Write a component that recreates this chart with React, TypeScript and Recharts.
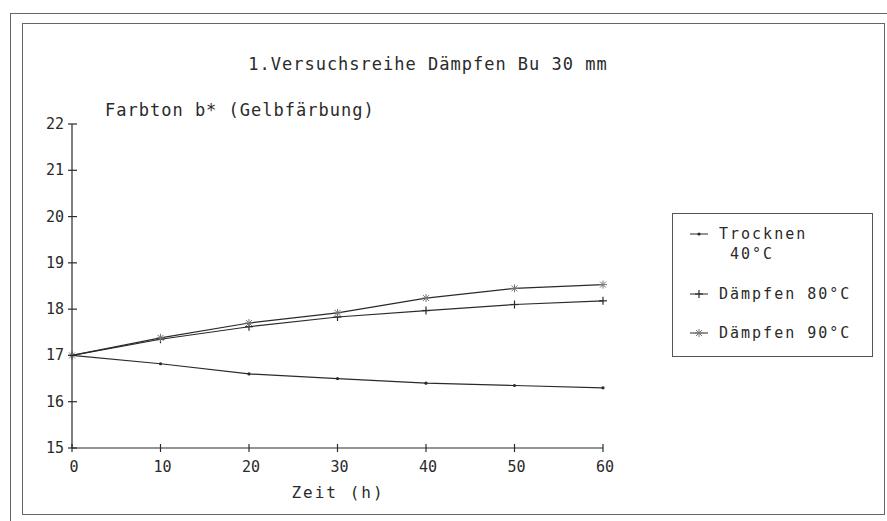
import { Legend, Line, LineChart, XAxis, YAxis } from "recharts";

// Versuchszeit in Stunden
const hours = [0, 10, 20, 30, 40, 50, 60];

// Farbton b* je Behandlung
const trocknen40 = [17.0, 16.82, 16.6, 16.5, 16.4, 16.35, 16.3];
const daempfen80 = [17.0, 17.35, 17.62, 17.83, 17.97, 18.1, 18.18];
const daempfen90 = [17.0, 17.38, 17.7, 17.92, 18.24, 18.45, 18.53];

const yTicks = [15, 16, 17, 18, 19, 20, 21, 22];
const xTicks = [0, 10, 20, 30, 40, 50, 60];

const seriesNames = ["Trocknen 40°C", "Dämpfen 80°C", "Dämpfen 90°C"];

const data = hours.map((h, i) => ({
  h,
  t40: trocknen40[i],
  d80: daempfen80[i],
  d90: daempfen90[i],
}));

const INK = "#2a2a2a";
const MONO = "'DejaVu Sans Mono', 'Liberation Mono', monospace";

function DotMark({ cx, cy }: any) {
  if (cx == null || cy == null) return null;
  return <circle cx={cx} cy={cy} r={1.6} fill={INK} />;
}

function PlusMark({ cx, cy }: any) {
  if (cx == null || cy == null) return null;
  return (
    <g stroke={INK} strokeWidth={1.2}>
      <line x1={cx - 4} y1={cy} x2={cx + 4} y2={cy} />
      <line x1={cx} y1={cy - 4} x2={cx} y2={cy + 4} />
    </g>
  );
}

function StarMark({ cx, cy }: any) {
  if (cx == null || cy == null) return null;
  return (
    <g stroke="#777" strokeWidth={1}>
      <line x1={cx - 4} y1={cy} x2={cx + 4} y2={cy} />
      <line x1={cx} y1={cy - 4} x2={cx} y2={cy + 4} />
      <line x1={cx - 3} y1={cy - 3} x2={cx + 3} y2={cy + 3} />
      <line x1={cx - 3} y1={cy + 3} x2={cx + 3} y2={cy - 3} />
    </g>
  );
}

function YTick({ x, y, payload }: any) {
  return (
    <g>
      <line x1={x + 4} y1={y} x2={x + 13} y2={y} stroke={INK} strokeWidth={1.2} />
      <text
        x={x}
        y={y}
        dy={5}
        textAnchor="end"
        fontFamily={MONO}
        fontSize={15}
        fill={INK}
      >
        {payload.value}
      </text>
    </g>
  );
}

function XTick({ x, y, payload }: any) {
  return (
    <g>
      <line x1={x} y1={y - 4} x2={x} y2={y + 4} stroke={INK} strokeWidth={1.2} />
      <text
        x={x + 2}
        y={y}
        dy={24}
        textAnchor="middle"
        fontFamily={MONO}
        fontSize={15}
        fill={INK}
      >
        {payload.value}
      </text>
    </g>
  );
}

const markers = [DotMark, PlusMark, StarMark];

function LegendBox() {
  return (
    <div
      style={{
        width: 199,
        height: 142,
        border: "1px solid #555",
        fontFamily: MONO,
        fontSize: 15,
        letterSpacing: 2,
        color: INK,
        position: "relative",
        textAlign: "left",
      }}
    >
      {seriesNames.map((name, i) => {
        const Mark = markers[i];
        const top = [10, 70, 109][i];
        const label =
          i === 0 ? (
            <>
              Trocknen
              <br />
              &nbsp;40°C
            </>
          ) : (
            name
          );
        return (
          <div key={name} style={{ position: "absolute", left: 16, top, display: "flex" }}>
            <svg width={20} height={20} style={{ marginRight: 10 }}>
              <line x1={1} y1={10} x2={19} y2={10} stroke={INK} strokeWidth={1} />
              <Mark cx={10} cy={10} />
            </svg>
            <div style={{ lineHeight: "20px" }}>{label}</div>
          </div>
        );
      })}
    </div>
  );
}

export default function App() {
  return (
    <div
      style={{
        position: "relative",
        width: 887,
        height: 521,
        background: "#fff",
        overflow: "hidden",
      }}
    >
      <style>{"body{margin:0}"}</style>
      {/* Rahmen */}
      <div
        style={{
          position: "absolute",
          left: 10,
          top: 13,
          width: 900,
          height: 540,
          borderLeft: "1px solid #666",
          borderTop: "1px solid #666",
        }}
      />
      <div
        style={{
          position: "absolute",
          left: 22,
          top: 23,
          width: 861,
          height: 490,
          border: "1px solid #666",
        }}
      />
      <div
        style={{
          position: "absolute",
          left: 0,
          width: 856,
          top: 54,
          textAlign: "center",
          fontFamily: MONO,
          fontSize: 17,
          letterSpacing: 1,
          color: INK,
        }}
      >
        1.Versuchsreihe Dämpfen Bu 30 mm
      </div>
      <div
        style={{
          position: "absolute",
          left: 105,
          top: 100,
          fontFamily: MONO,
          fontSize: 17,
          letterSpacing: 1,
          color: INK,
          whiteSpace: "pre",
        }}
      >
        Farbton b* (Gelbfärbung)
      </div>
      <div
        style={{
          position: "absolute",
          left: 0,
          width: 676,
          top: 483,
          textAlign: "center",
          fontFamily: MONO,
          fontSize: 16,
          letterSpacing: 2,
          color: INK,
          whiteSpace: "pre",
        }}
      >
        Zeit (h)
      </div>
      <div style={{ position: "absolute", left: 0, top: 0 }}>
        <LineChart
          width={887}
          height={521}
          data={data}
          margin={{ top: 124, right: 284, bottom: 0, left: 0 }}
        >
          <XAxis
            dataKey="h"
            type="number"
            domain={[0, 60]}
            ticks={xTicks}
            height={73}
            axisLine={{ stroke: INK, strokeWidth: 1.2 }}
            tickLine={false}
            tick={<XTick />}
            tickMargin={0}
            tickSize={0}
          />
          <YAxis
            type="number"
            domain={[15, 22]}
            ticks={yTicks}
            width={72}
            axisLine={{ stroke: INK, strokeWidth: 1.2 }}
            tickLine={false}
            tick={<YTick />}
            tickSize={0}
            tickMargin={8}
          />
          <Legend
            layout="vertical"
            align="center"
            verticalAlign="middle"
            content={() => <LegendBox />}
            wrapperStyle={{ position: "absolute", left: 672, top: 213, width: 201 }}
          />
          <Line
            dataKey="t40"
            name={seriesNames[0]}
            stroke={INK}
            strokeWidth={1.2}
            dot={<DotMark />}
            activeDot={false}
            isAnimationActive={false}
          />
          <Line
            dataKey="d80"
            name={seriesNames[1]}
            stroke={INK}
            strokeWidth={1.2}
            dot={<PlusMark />}
            activeDot={false}
            isAnimationActive={false}
          />
          <Line
            dataKey="d90"
            name={seriesNames[2]}
            stroke={INK}
            strokeWidth={1.2}
            dot={<StarMark />}
            activeDot={false}
            isAnimationActive={false}
          />
        </LineChart>
      </div>
    </div>
  );
}
